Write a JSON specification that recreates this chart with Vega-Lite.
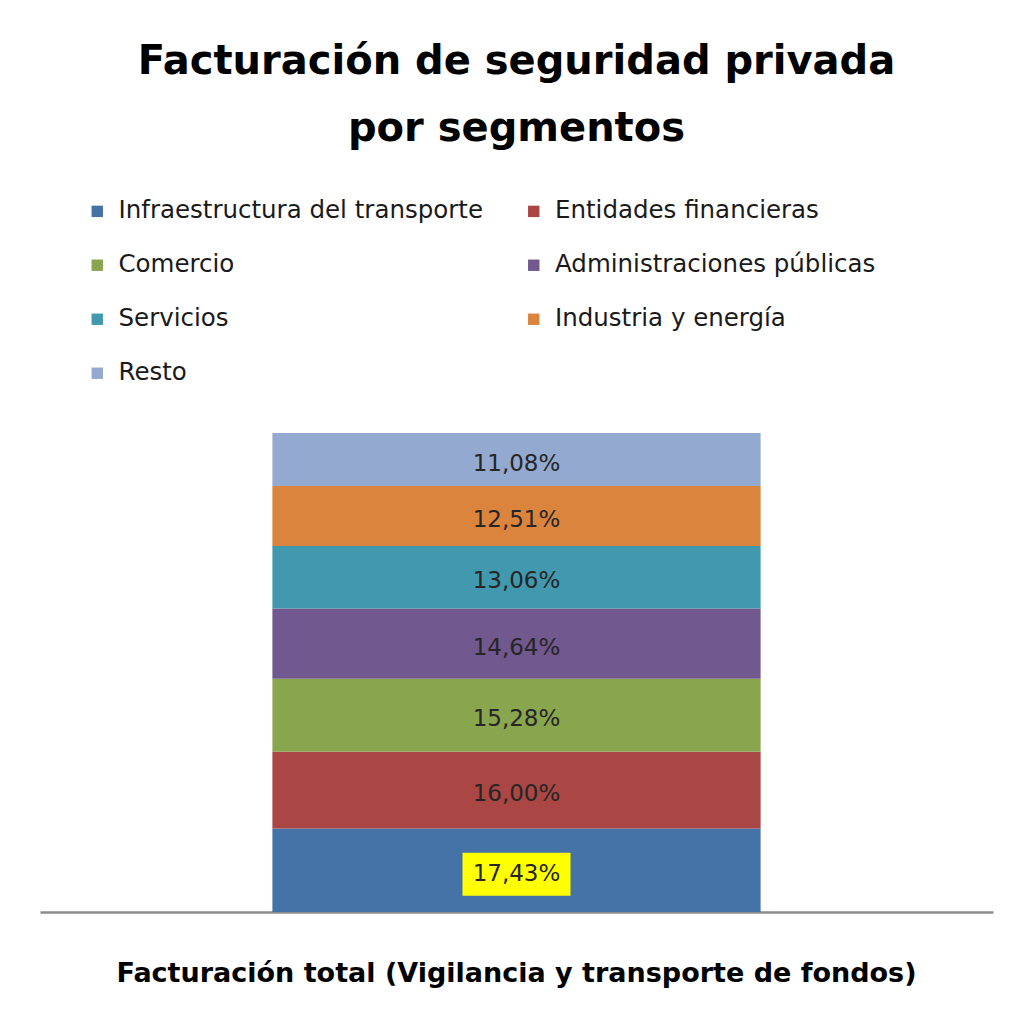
{
  "$schema": "https://vega.github.io/schema/vega-lite/v6.json",
  "width": 953,
  "height": 479,
  "autosize": {"type": "none"},
  "padding": {"left": 40, "top": 433, "right": 26, "bottom": 112},
  "background": "white",
  "title": {
    "text": ["Facturación de seguridad privada", "por segmentos"],
    "font": "DejaVu Sans",
    "fontSize": 40,
    "fontWeight": "bold",
    "color": "#000000",
    "anchor": "middle",
    "lineHeight": 67,
    "baseline": "top",
    "offset": 50
  },
  "data": {
    "values": [
      {"segmento": "Infraestructura del transporte", "pct": 17.43, "etiqueta": "17,43%", "orden": 1, "cat": "Facturación total (Vigilancia y transporte de fondos)"},
      {"segmento": "Entidades financieras", "pct": 16.00, "etiqueta": "16,00%", "orden": 2, "cat": "Facturación total (Vigilancia y transporte de fondos)"},
      {"segmento": "Comercio", "pct": 15.28, "etiqueta": "15,28%", "orden": 3, "cat": "Facturación total (Vigilancia y transporte de fondos)"},
      {"segmento": "Administraciones públicas", "pct": 14.64, "etiqueta": "14,64%", "orden": 4, "cat": "Facturación total (Vigilancia y transporte de fondos)"},
      {"segmento": "Servicios", "pct": 13.06, "etiqueta": "13,06%", "orden": 5, "cat": "Facturación total (Vigilancia y transporte de fondos)"},
      {"segmento": "Industria y energía", "pct": 12.51, "etiqueta": "12,51%", "orden": 6, "cat": "Facturación total (Vigilancia y transporte de fondos)"},
      {"segmento": "Resto", "pct": 11.08, "etiqueta": "11,08%", "orden": 7, "cat": "Facturación total (Vigilancia y transporte de fondos)"}
    ]
  },
  "transform": [
    {"stack": "pct", "groupby": ["cat"], "sort": [{"field": "orden", "order": "ascending"}], "as": ["y0", "y1"]},
    {"calculate": "(datum.y0 + datum.y1) / 2", "as": "ymid"}
  ],
  "encoding": {
    "x": {
      "field": "cat",
      "type": "nominal",
      "scale": {"paddingInner": 0, "paddingOuter": 0.476},
      "axis": {
        "title": null,
        "labelAngle": 0,
        "labelFont": "DejaVu Sans",
        "labelFontSize": 27,
        "labelFontWeight": "bold",
        "labelColor": "#000000",
        "labelPadding": 48,
        "labelLimit": 0,
        "ticks": false,
        "domainColor": "#8c8c8c",
        "domainWidth": 2.5
      }
    }
  },
  "layer": [
    {
      "mark": {"type": "bar"},
      "encoding": {
        "y": {"field": "y0", "type": "quantitative", "scale": {"domain": [0, 100], "nice": false}, "axis": null},
        "y2": {"field": "y1"},
        "color": {
          "field": "segmento",
          "type": "nominal",
          "sort": ["Infraestructura del transporte", "Entidades financieras", "Comercio", "Administraciones públicas", "Servicios", "Industria y energía", "Resto"],
          "scale": {
            "domain": ["Infraestructura del transporte", "Entidades financieras", "Comercio", "Administraciones públicas", "Servicios", "Industria y energía", "Resto"],
            "range": ["#4572A7", "#AA4643", "#89A54E", "#71588F", "#4198AF", "#DB843D", "#93A9CF"]
          },
          "legend": {
            "title": null,
            "orient": "none",
            "legendX": 45,
            "legendY": -234,
            "padding": 0,
            "columns": 2,
            "direction": "horizontal",
            "columnPadding": 38.5,
            "rowPadding": 29,
            "symbolType": "square",
            "symbolSize": 130,
            "symbolStrokeWidth": 0,
            "symbolOpacity": 1,
            "labelFont": "DejaVu Sans",
            "labelFontSize": 24.5,
            "labelColor": "#1a1a1a",
            "labelOffset": 9,
            "labelLimit": 0
          }
        },
        "order": {"field": "orden", "type": "quantitative"}
      }
    },
    {
      "transform": [{"filter": "datum.orden == 1"}],
      "mark": {"type": "point", "filled": true, "opacity": 1, "color": "#FFFF00", "shape": "M-1,-0.4H1V0.4H-1Z", "size": 11664, "yOffset": 4},
      "encoding": {
        "y": {"field": "ymid", "type": "quantitative"}
      }
    },
    {
      "mark": {"type": "text", "font": "DejaVu Sans", "fontSize": 23, "color": "#262626", "baseline": "middle", "yOffset": 4},
      "encoding": {
        "y": {"field": "ymid", "type": "quantitative"},
        "text": {"field": "etiqueta", "type": "nominal"}
      }
    }
  ],
  "config": {"view": {"stroke": null}}
}
